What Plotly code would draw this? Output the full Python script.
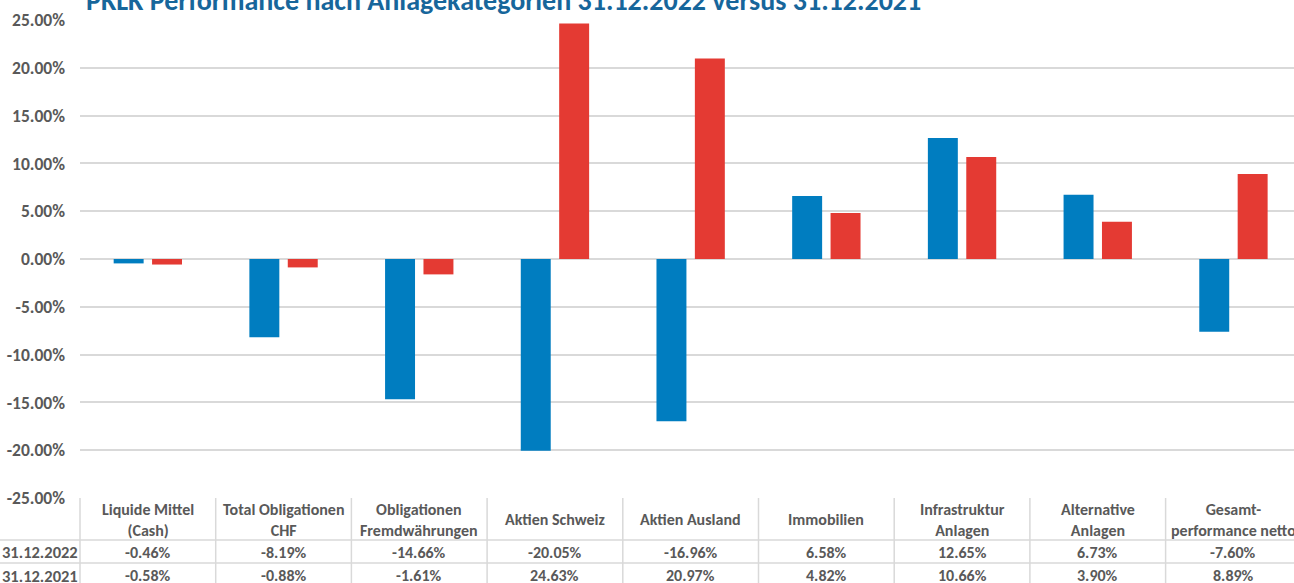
import plotly.graph_objects as go

categories = ["Liquide Mittel<br>(Cash)", "Total Obligationen<br>CHF", "Obligationen<br>Fremdwährungen",
              "Aktien Schweiz", "Aktien Ausland", "Immobilien", "Infrastruktur<br>Anlagen",
              "Alternative<br>Anlagen", "Gesamt-<br>performance netto"]
series_names = ["31.12.2022", "31.12.2021"]
values_2022 = [-0.46, -8.19, -14.66, -20.05, -16.96, 6.58, 12.65, 6.73, -7.60]
values_2021 = [-0.58, -0.88, -1.61, 24.63, 20.97, 4.82, 10.66, 3.90, 8.89]
tick_vals = [25, 20, 15, 10, 5, 0, -5, -10, -15, -20, -25]
tick_text = ["25.00%", "20.00%", "15.00%", "10.00%", "5.00%", "0.00%", "-5.00%", "-10.00%", "-15.00%", "-20.00%", "-25.00%"]
title_text = "PKLK Performance nach Anlagekategorien 31.12.2022 versus 31.12.2021"

BLUE = "#007DC0"
RED = "#E43A33"
GRID = "#D9D9D9"
TXT = "#595959"
FONT = "Carlito, Calibri, Lato, sans-serif"

W, H = 1294, 583
ML, MT, MB = 80, 20, 85
plot_w = W - ML
plot_h = H - MT - MB
col_px = 135.7
xmax = -0.5 + plot_w / col_px

xs = list(range(len(categories)))

fig = go.Figure()
fig.add_trace(go.Bar(x=xs, y=values_2022, name=series_names[0], marker=dict(color=BLUE, line=dict(width=0))))
fig.add_trace(go.Bar(x=xs, y=values_2021, name=series_names[1], marker=dict(color=RED, line=dict(width=0))))

def py_to_paper(py):
    return (H - MB - py) / plot_h

def px_to_paper(px):
    return (px - ML) / plot_w

tfont = dict(family=FONT, size=16, color=TXT, weight=600)

shapes = []
annotations = []
for py in [540, 563]:
    shapes.append(dict(type="line", xref="paper", yref="paper", x0=px_to_paper(0), x1=1.01,
                       y0=py_to_paper(py), y1=py_to_paper(py), line=dict(color=GRID, width=1.5)))
shapes.append(dict(type="line", xref="paper", yref="paper", x0=0, x1=0,
                   y0=0, y1=py_to_paper(600), line=dict(color=GRID, width=1.5)))
for i in range(1, len(categories) + 1):
    shapes.append(dict(type="line", xref="x", yref="paper", x0=i - 0.5, x1=i - 0.5,
                       y0=0, y1=py_to_paper(600), line=dict(color=GRID, width=1.5)))

for i, c in enumerate(categories):
    annotations.append(dict(x=i, xref="x", y=py_to_paper(519.5), yref="paper", text=c, showarrow=False,
                            xanchor="center", yanchor="middle", font=tfont))
    annotations.append(dict(x=i, xref="x", y=py_to_paper(552), yref="paper", text=f"{values_2022[i]:.2f}%",
                            showarrow=False, xanchor="center", yanchor="middle", font=tfont))
    annotations.append(dict(x=i, xref="x", y=py_to_paper(575.5), yref="paper", text=f"{values_2021[i]:.2f}%",
                            showarrow=False, xanchor="center", yanchor="middle", font=tfont))
for j, (name, py) in enumerate(zip(series_names, [552, 575.5])):
    annotations.append(dict(x=px_to_paper(40), xref="paper", y=py_to_paper(py), yref="paper", text=name,
                            showarrow=False, xanchor="center", yanchor="middle",
                            font=dict(family=FONT, size=16.5, color=TXT, weight=600)))

annotations.append(dict(x=px_to_paper(84), xref="paper", y=py_to_paper(0), yref="paper", text="<b>" + title_text + "</b>",
                        showarrow=False, xanchor="left", yanchor="middle",
                        font=dict(family=FONT, size=28, color="#17669B")))

fig.update_layout(
    width=W, height=H,
    margin=dict(l=ML, r=0, t=MT, b=MB, pad=0),
    paper_bgcolor="white", plot_bgcolor="white",
    showlegend=False,
    barmode="group", bargap=0.434, bargroupgap=0.22,
    xaxis=dict(range=[-0.5, xmax], showticklabels=False, showgrid=False, zeroline=False,
               showline=False, ticks=""),
    yaxis=dict(range=[-25, 25], tickvals=tick_vals, ticktext=tick_text, showgrid=True,
               gridcolor=GRID, gridwidth=1.5, zeroline=True, zerolinecolor=GRID, zerolinewidth=1.5,
               showline=False, ticks="", ticklabelstandoff=14,
               tickfont=dict(family=FONT, size=17.5, color=TXT, weight=600)),
    shapes=shapes, annotations=annotations,
)

fig.write_html("out.html")
